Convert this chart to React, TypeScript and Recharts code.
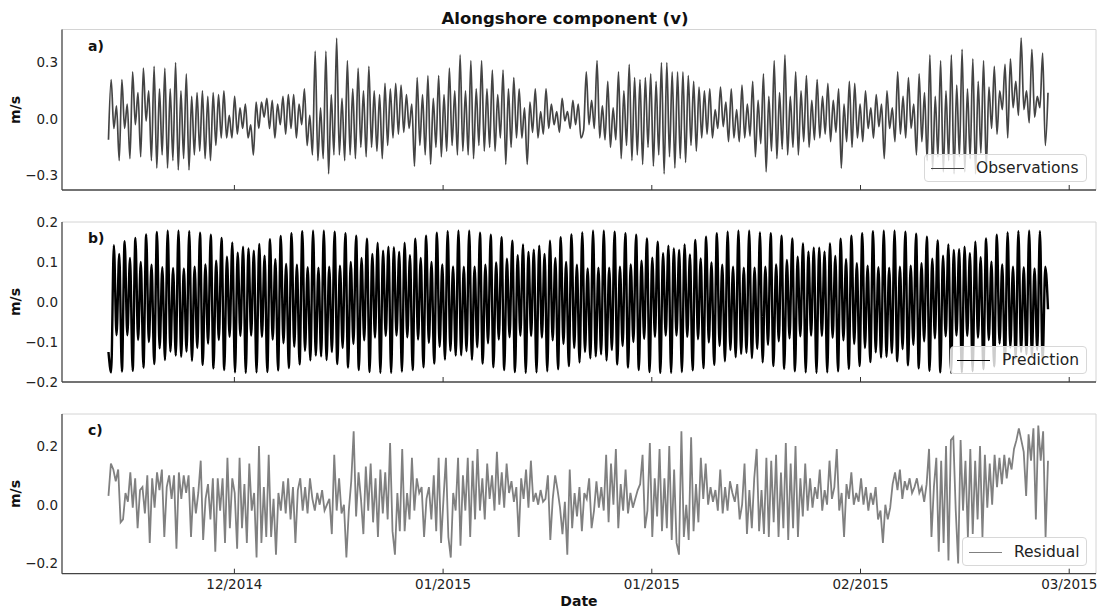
import { LineChart, Line, XAxis, YAxis, ReferenceLine } from "recharts";

const FONT = '"DejaVu Sans", sans-serif';

// time axis (days since first sample)
const spanDays = 135.05;
const xDomain: [number, number] = [-6.68, 141.95];
const tickDays = [18.1, 48.1, 78.1, 108.1, 138.1];
const tickLabels = ["12/2014", "01/2015", "01/2015", "02/2015", "03/2015"];

// a) observations (m/s)
const observed = [
  -0.11, 0.21, -0.05, 0.07, -0.22, 0.21, -0.05, 0.08, -0.21, 0.25, -0.03, 0.14, -0.2, 0.27, -0.01, 0.15,
  -0.22, 0.28, -0.26, 0.16, -0.19, 0.27, -0.26, 0.16, -0.22, 0.3, -0.27, 0.15, -0.21, 0.24, -0.27, 0.12,
  -0.19, 0.14, -0.17, 0.15, -0.21, 0.12, -0.22, 0.14, -0.14, 0.13, -0.1, 0.15, -0.1, 0.02, -0.1, 0.12,
  -0.08, 0.06, -0.05, 0.08, -0.1, -0.03, -0.19, 0.09, -0.05, 0.09, 0.01, 0.11, -0.05, 0.1, -0.1, 0.08,
  -0.03, 0.12, -0.08, 0.13, -0.05, 0.13, -0.1, 0.08, -0.03, 0.16, -0.14, 0.02, -0.19, 0.36, -0.22, 0.06,
  -0.21, 0.36, -0.29, 0.13, -0.19, 0.43, -0.19, 0.11, -0.22, 0.31, -0.19, 0.16, -0.21, 0.27, -0.15, 0.15,
  -0.2, 0.28, -0.15, 0.15, -0.17, 0.13, -0.21, 0.19, -0.14, 0.16, -0.1, 0.19, -0.08, 0.18, -0.07, 0.13,
  -0.05, 0.08, -0.25, 0.22, -0.14, 0.13, -0.19, 0.23, -0.24, 0.11, -0.15, 0.23, -0.2, 0.13, -0.17, 0.27,
  -0.14, 0.15, -0.19, 0.34, -0.17, 0.15, -0.19, 0.31, -0.21, 0.16, -0.14, 0.31, -0.17, 0.16, -0.15, 0.26,
  -0.17, 0.13, -0.1, 0.26, -0.24, 0.16, -0.15, 0.22, -0.1, 0.16, -0.1, 0.06, -0.24, 0.09, -0.07, 0.16,
  -0.1, 0.04, -0.08, 0.16, -0.05, 0.08, -0.03, 0.04, -0.07, 0.11, -0.01, 0.04, -0.05, 0.1, -0.03, 0.08,
  -0.1,
  -0.06, 0.25, -0.03, 0.1, -0.05, 0.31, -0.1, 0.07, -0.11, 0.2, -0.15, 0.06, -0.11, 0.25, -0.21, 0.15,
  -0.14, 0.29, -0.22, 0.22, -0.19, 0.21, -0.24, 0.22, -0.15, 0.24, -0.25, 0.2, -0.19, 0.3, -0.29, 0.3,
  -0.2, 0.25, -0.26, 0.25, -0.21, 0.25, -0.23, 0.23, -0.14, 0.2, -0.17, 0.17, -0.1, 0.15, -0.08, 0.16,
  -0.1, 0.05, -0.05, 0.17, -0.04, 0.09, -0.12, 0.16, -0.1, 0.05, -0.12, 0.18, -0.1, 0.08, -0.09, 0.2,
  -0.2, 0.1, -0.13, 0.24, -0.28, 0.12, -0.17, 0.31, -0.21, 0.14, -0.16, 0.34, -0.19, 0.12, -0.15, 0.25,
  -0.19, 0.15, -0.12, 0.23, -0.15, 0.1, -0.11, 0.21, -0.1, 0.12, -0.08, 0.19, -0.12, 0.1, -0.07, 0.16,
  -0.26, 0.08, -0.12, 0.2, -0.15, 0.19, -0.1, 0.08, -0.12, 0.15, -0.05, 0.06, -0.1, 0.13, -0.04, 0.08,
  -0.21, 0.15, -0.05, 0.06, -0.12, 0.25, -0.08, 0.12, -0.1, 0.22, -0.05, 0.08, -0.19, 0.24, -0.12, 0.14,
  -0.22, 0.34, -0.27, 0.12, -0.2, 0.31, -0.28, 0.15, -0.22, 0.34, -0.29, 0.18, -0.2, 0.37, -0.28, 0.16,
  -0.21, 0.32, -0.29, 0.2, -0.18, 0.31, -0.26, 0.17, -0.05, 0.28, -0.08, 0.15, 0.05, 0.29, -0.1, 0.32,
  0.06, 0.2, 0.02, 0.43, 0.05, 0.15, -0.02, 0.37, 0.01, 0.12, 0.06, 0.35, -0.14, 0.14,
];

// b) tidal prediction: trough, peak, trough, peak per pair of cycles
const predicted = [
  -0.125,
  -0.176, 0.142, -0.083, 0.12, -0.174, 0.152, -0.083, 0.11, -0.172, 0.16, -0.095, 0.1,
  -0.164, 0.169, -0.1, 0.093, -0.155, 0.175, -0.116, 0.087, -0.145, 0.178, -0.124, 0.085,
  -0.134, 0.178, -0.137, 0.084, -0.124, 0.177, -0.147, 0.088, -0.115, 0.173, -0.157, 0.094,
  -0.104, 0.168, -0.166, 0.103, -0.095, 0.16, -0.17, 0.113, -0.087, 0.149, -0.176, 0.123,
  -0.085, 0.138, -0.177, 0.134, -0.084, 0.128, -0.176, 0.145, -0.087, 0.116, -0.175, 0.157,
  -0.094, 0.107, -0.171, 0.165, -0.103, 0.095, -0.165, 0.172, -0.112, 0.093, -0.156, 0.177,
  -0.122, 0.087, -0.146, 0.178, -0.134, 0.086, -0.136, 0.178, -0.145, 0.088, -0.125, 0.176,
  -0.155, 0.091, -0.115, 0.172, -0.164, 0.1, -0.105, 0.166, -0.17, 0.11, -0.096, 0.158,
  -0.175, 0.12, -0.089, 0.148, -0.177, 0.128, -0.085, 0.138, -0.177, 0.137, -0.084, 0.125,
  -0.174, 0.148, -0.088, 0.117, -0.17, 0.158, -0.094, 0.11, -0.163, 0.166, -0.102, 0.1,
  -0.154, 0.173, -0.112, 0.094, -0.144, 0.177, -0.122, 0.089, -0.134, 0.178, -0.133, 0.088,
  -0.123, 0.178, -0.144, 0.088, -0.113, 0.173, -0.154, 0.093, -0.103, 0.168, -0.163, 0.099,
  -0.094, 0.162, -0.17, 0.108, -0.088, 0.153, -0.175, 0.117, -0.084, 0.144, -0.177, 0.125,
  -0.085, 0.131, -0.176, 0.141, -0.089, 0.12, -0.173, 0.153, -0.096, 0.11, -0.168, 0.162,
  -0.105, 0.1, -0.16, 0.169, -0.115, 0.093, -0.151, 0.174, -0.125, 0.084, -0.141, 0.178,
  -0.136, 0.086, -0.131, 0.178, -0.146, 0.086, -0.12, 0.176, -0.156, 0.088, -0.11, 0.172,
  -0.164, 0.094, -0.1, 0.168, -0.17, 0.103, -0.092, 0.159, -0.175, 0.111, -0.087, 0.151,
  -0.177, 0.122, -0.084, 0.141, -0.177, 0.134, -0.084, 0.13, -0.175, 0.144, -0.087, 0.119,
  -0.171, 0.155, -0.093, 0.109, -0.165, 0.163, -0.101, 0.099, -0.157, 0.172, -0.11, 0.093,
  -0.148, 0.176, -0.12, 0.088, -0.138, 0.178, -0.13, 0.086, -0.127, 0.178, -0.14, 0.086,
  -0.117, 0.174, -0.151, 0.088, -0.107, 0.172, -0.16, 0.094, -0.098, 0.166, -0.167, 0.105,
  -0.091, 0.159, -0.173, 0.113, -0.086, 0.147, -0.176, 0.126, -0.084, 0.136, -0.177, 0.136,
  -0.085, 0.126, -0.176, 0.147, -0.089, 0.115, -0.173, 0.158, -0.096, 0.107, -0.167, 0.166,
  -0.105, 0.097, -0.16, 0.172, -0.115, 0.091, -0.15, 0.177, -0.126, 0.087, -0.139, 0.178,
  -0.137, 0.086, -0.128, 0.178, -0.148, 0.088, -0.118, 0.176, -0.158, 0.091, -0.107, 0.171,
  -0.166, 0.097, -0.098, 0.163, -0.172, 0.108, -0.091, 0.154, -0.176, 0.116, -0.086, 0.144,
  -0.177, 0.13, -0.084, 0.132, -0.176, 0.138, -0.085, 0.122, -0.173, 0.151, -0.089, 0.112,
  -0.168, 0.159, -0.095, 0.101, -0.161, 0.168, -0.104, 0.094, -0.152, 0.174, -0.114, 0.088,
  -0.141, 0.177, -0.125, 0.087, -0.131, 0.178, -0.136, 0.084, -0.12, 0.177, -0.147, 0.088,
  -0.018,
];

// c) residual (observations - prediction)
const residual = [
  0.03, 0.14, 0.12, 0.08, 0.12, -0.06, -0.05, 0.04, 0.01, 0.11, -0.01, 0.09, -0.08, 0.05, 0.06, -0.03,
  0.1, -0.13, 0.09, -0.01, 0.11, 0.05, 0.12, -0.11, 0.06, 0.1, 0.02, 0.1, -0.15, 0.11, 0.02, 0.1,
  0.04, 0.1, -0.11, 0.06, -0.03, 0.04, 0.15, -0.12, 0.02, 0.07, -0.05, 0.09, -0.16, 0.09, -0.02, 0.09,
  -0.13, 0.16, -0.08, 0.09, 0.04, -0.15, 0.16, -0.08, 0.07, -0.13, 0.14, -0.02, 0.04, -0.18, 0.2, -0.13,
  0.06, -0.11, 0.17, -0.11, 0.02, -0.17, 0.04, -0.02, 0.08, -0.03, 0.09, -0.05, 0.06, -0.13, 0.05, 0.09,
  -0.02, 0.06, -0.03, 0.09, 0.02, -0.02, 0.04, 0.0, 0.05, -0.02, 0.0, 0.02, -0.1, 0.17, -0.02, 0.09,
  -0.03, 0.0, -0.18, -0.02, 0.08, 0.25, -0.04, 0.11, 0.02, -0.1, 0.13, -0.02, 0.14, -0.06, 0.09, -0.11,
  0.12, -0.03, 0.11, -0.05, 0.21, -0.09, -0.17, 0.04, -0.09, 0.19, -0.09, 0.04, -0.05, 0.16, -0.02, 0.09,
  0.04, 0.06, -0.11, 0.02, 0.06, -0.05, 0.1, -0.09, 0.16, -0.13, 0.02, 0.16, -0.11, -0.18, 0.04, -0.02,
  0.16, -0.14, 0.1, -0.02, 0.16, -0.11, 0.15, -0.05, 0.19, -0.02, 0.09, -0.05, 0.14, 0.02, 0.1, -0.02,
  0.18, 0.0, 0.11, -0.01, 0.14, 0.04, 0.08, 0.01, 0.06, -0.11, 0.09, 0.02, 0.12, -0.01, 0.15, 0.01,
  0.04, 0.0, 0.05, 0.01, 0.02, 0.1, -0.12, 0.02, 0.1, 0.05, -0.01, -0.1, 0.01, -0.17, 0.12, -0.08,
  0.04, -0.04, 0.06, -0.09, 0.04, 0.02, 0.09, -0.08,
  -0.02, 0.08, -0.01, 0.06, -0.02, 0.17, -0.06, 0.14, 0.0, 0.19, -0.08, 0.07, -0.02, 0.12, -0.03, 0.04,
  -0.01, 0.02, 0.05, 0.07, 0.17, -0.08, -0.02, 0.21, -0.11, 0.09, -0.04, 0.19, -0.09, 0.09, -0.08, 0.2,
  -0.12, 0.12, -0.13, -0.17, 0.25, -0.11, 0.0, -0.12, 0.23, -0.09, 0.07, -0.06, 0.16, 0.02, 0.14, 0.0,
  0.06, 0.01, 0.05, -0.02, 0.12, -0.03, 0.06, -0.02, 0.08, 0.04, 0.01, 0.07, -0.05, 0.0, 0.14, -0.1,
  0.05, -0.08, 0.09, 0.19, -0.09, 0.05, -0.1, 0.16, -0.11, 0.15, -0.06, 0.17, -0.11, 0.11, -0.08, 0.21,
  -0.12, 0.14, -0.08, 0.2, -0.11, 0.09, -0.04, 0.14, -0.02, 0.09, -0.01, 0.06, 0.02, 0.12, -0.02, 0.05,
  0.0, 0.15, 0.02, 0.06, 0.19, -0.02, 0.04, -0.11, 0.07, 0.02, 0.11, 0.0, 0.04, 0.01, 0.09, 0.0,
  0.06, -0.02, 0.04, 0.0, 0.06, -0.05, -0.02, -0.13, 0.0, -0.05, -0.01, 0.07, 0.11, 0.05, 0.12, 0.02,
  0.08, 0.05, 0.09, 0.04, 0.06, 0.09, 0.04, 0.06, 0.01, 0.07, 0.19, -0.11, 0.06, 0.16, -0.16, 0.15,
  -0.13, 0.2, -0.19, 0.22, 0.23, -0.02, -0.2, 0.22, -0.02, 0.15, -0.11, 0.19, -0.1, 0.15, -0.05, 0.2,
  -0.11, 0.17, -0.01, 0.14, 0.0, 0.17, 0.06, 0.16, 0.07, 0.17, 0.09, 0.16, 0.12, 0.19, 0.22, 0.26,
  0.22, 0.18, 0.03, 0.24, 0.15, 0.26, -0.05, 0.27, 0.15, 0.25, -0.11, 0.15,
];

const toRows = (vals: number[]) =>
  vals.map((v, i) => ({ t: (i * spanDays) / (vals.length - 1), v }));

const fmtY = (v: number) => v.toFixed(1).replace("-", "\u2212");

type Panel = {
  tag: string;
  name: string;
  values: number[];
  color: string;
  width: number;
  curve: "linear" | "monotone";
  yDomain: [number, number];
  yTicks: number[];
  top: number;
  height: number;
  marginTop: number;
  xAxisHeight: number;
  showLabels: boolean;
  legend: { left: number; top: number; width: number; height: number };
};

const panels: Panel[] = [
  {
    tag: "a)", name: "Observations", values: observed, color: "#444444", width: 1.7, curve: "monotone",
    yDomain: [-0.376, 0.475], yTicks: [-0.3, 0, 0.3],
    top: 0, height: 200, marginTop: 29.5, xAxisHeight: 10, showLabels: false,
    legend: { left: 924, top: 153.5, width: 163, height: 28.5 },
  },
  {
    tag: "b)", name: "Prediction", values: predicted, color: "#000000", width: 2.4, curve: "monotone",
    yDomain: [-0.2, 0.2], yTicks: [-0.2, -0.1, 0, 0.1, 0.2],
    top: 200, height: 200, marginTop: 22, xAxisHeight: 18, showLabels: false,
    legend: { left: 950, top: 345.7, width: 137, height: 28.3 },
  },
  {
    tag: "c)", name: "Residual", values: residual, color: "#808080", width: 1.8, curve: "linear",
    yDomain: [-0.235, 0.309], yTicks: [-0.2, 0, 0.2],
    top: 400, height: 210, marginTop: 14, xAxisHeight: 36.3, showLabels: true,
    legend: { left: 962, top: 537, width: 125, height: 29 },
  },
];

function PanelChart({ p }: { p: Panel }) {
  const data = toRows(p.values);
  const plotMid = p.top + p.marginTop + (p.height - p.marginTop - p.xAxisHeight) / 2;
  return (
    <>
      <div style={{ position: "absolute", left: 0, top: p.top, width: 1102, height: p.height }}>
        <LineChart width={1102} height={p.height} data={data}
          margin={{ top: p.marginTop, right: 6, bottom: 0, left: 0 }}>
          <XAxis dataKey="t" type="number" domain={xDomain} ticks={tickDays} interval={0}
            allowDataOverflow height={p.xAxisHeight} tickSize={-5} tickMargin={11}
            tickFormatter={(_v: number, i: number) => (p.showLabels ? tickLabels[i] : "")}
            tick={{ fill: "#222", fontSize: 13.5, fontFamily: FONT }}
            axisLine={{ stroke: "#444", strokeWidth: 1.3 }} tickLine={{ stroke: "#333" }} />
          <YAxis type="number" domain={p.yDomain} ticks={p.yTicks} interval={0}
            allowDataOverflow width={62} tickSize={0} tickMargin={4} tickFormatter={fmtY}
            tick={{ fill: "#222", fontSize: 13.5, fontFamily: FONT }}
            axisLine={{ stroke: "#444", strokeWidth: 1.3 }} tickLine={false} />
          <ReferenceLine y={p.yDomain[1]} stroke="#d4d4d4" />
          <ReferenceLine x={xDomain[1]} stroke="#d4d4d4" />
          <Line type={p.curve} dataKey="v" stroke={p.color} strokeWidth={p.width}
            dot={false} isAnimationActive={false} />
        </LineChart>
      </div>
      <div style={{ position: "absolute", left: 88, top: p.top + p.marginTop + 16,
        transform: "translateY(-50%)", fontWeight: "bold", fontSize: 14 }}>{p.tag}</div>
      <div style={{ position: "absolute", left: 15, top: plotMid, whiteSpace: "nowrap",
        transform: "translate(-50%, -50%) rotate(-90deg)", fontWeight: "bold", fontSize: 14 }}>m/s</div>
      <div style={{ position: "absolute", left: p.legend.left, top: p.legend.top,
        width: p.legend.width, height: p.legend.height, boxSizing: "border-box",
        border: "1px solid #d8d8d8", borderRadius: 4, background: "rgba(255,255,255,0.8)" }}>
        <div style={{ position: "absolute", left: 6, top: "50%", width: 33,
          borderTop: `1.5px solid ${p.color}` }} />
        <div style={{ position: "absolute", left: 51, top: "50%", transform: "translateY(-50%)",
          fontSize: 15.5, color: "#222", whiteSpace: "nowrap" }}>{p.name}</div>
      </div>
    </>
  );
}

export default function App() {
  return (
    <div style={{ position: "absolute", left: 0, top: 0, width: 1102, height: 610,
      background: "#fff", fontFamily: FONT, color: "#111" }}>
      <div style={{ position: "absolute", left: 0, width: 1130, top: 18, transform: "translateY(-50%)",
        textAlign: "center", fontWeight: "bold", fontSize: 16.5 }}>Alongshore component (v)</div>
      {panels.map((p) => (
        <PanelChart key={p.tag} p={p} />
      ))}
      <div style={{ position: "absolute", left: 62, width: 1034, top: 601, transform: "translateY(-50%)",
        textAlign: "center", fontWeight: "bold", fontSize: 14 }}>Date</div>
    </div>
  );
}
